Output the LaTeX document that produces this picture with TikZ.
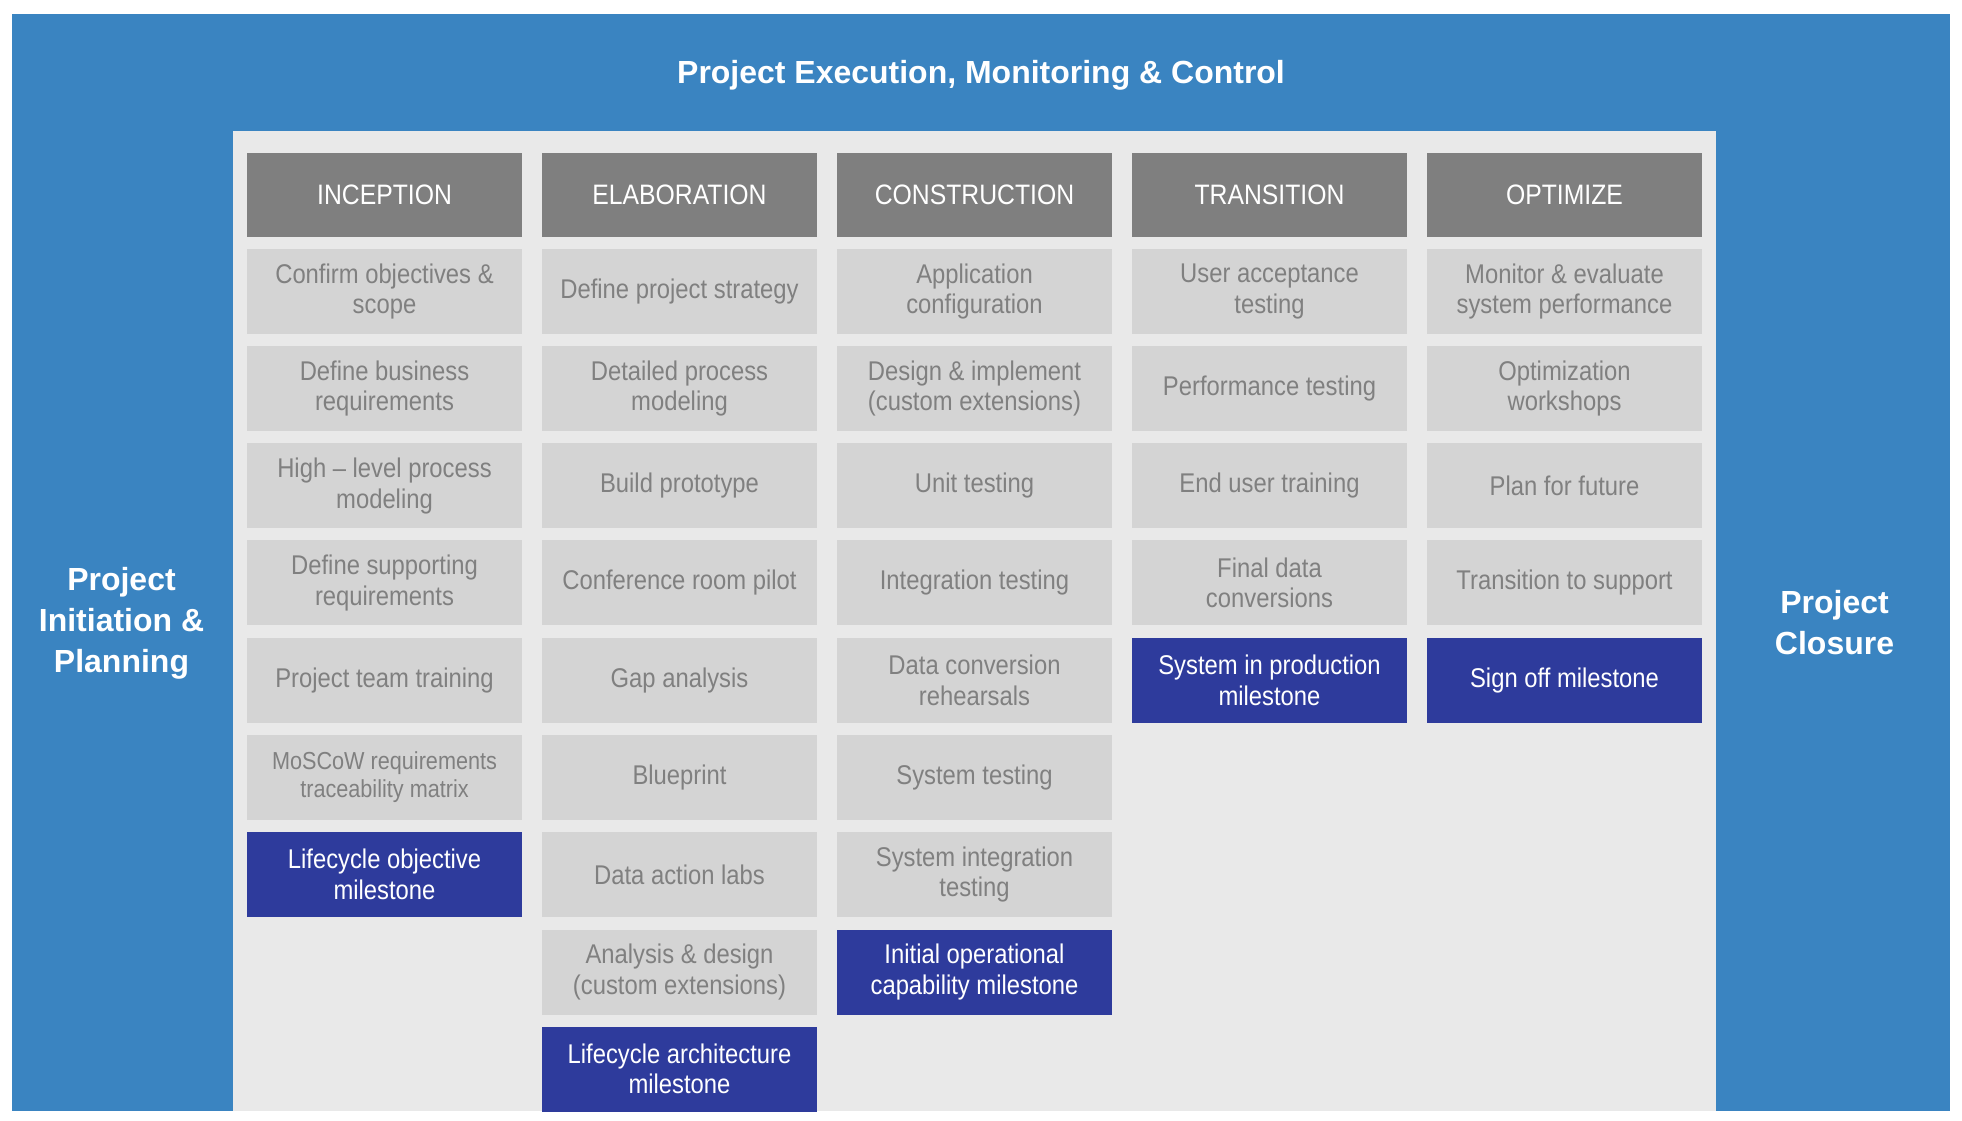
\documentclass[tikz,border=0pt]{standalone}
\usepackage{fontspec}
\setmainfont{Liberation Sans}[FakeStretch=0.88]
\newfontfamily\titlefont{Liberation Sans}

\definecolor{bandblue}{RGB}{58,132,193}
\definecolor{panelgray}{RGB}{233,233,233}
\definecolor{headgray}{RGB}{127,127,127}
\definecolor{cellgray}{RGB}{212,212,212}
\definecolor{textgray}{RGB}{128,128,128}
\definecolor{milestoneblue}{RGB}{46,59,156}

\begin{document}
\begin{tikzpicture}
\tikzstyle{every node} = [align=center, inner sep=0pt, font=\fontsize{15.4}{17.4}\selectfont]
\tikzstyle{phase} = [fill=headgray, text=white, minimum width=5.5cm, minimum height=1.68cm, font=\fontsize{16}{18}\selectfont]
\tikzstyle{task} = [fill=cellgray, text=textgray, minimum width=5.5cm, minimum height=1.7cm]
\tikzstyle{milestone} = [fill=milestoneblue, text=white, minimum width=5.5cm, minimum height=1.7cm]
\tikzstyle{banner} = [text=white, font=\titlefont\bfseries\fontsize{18.2}{23.4}\selectfont]

\useasboundingbox (0, 0) rectangle (39.24, 22.4);
\fill[white] (0, 0) rectangle (39.24, 22.4);

% fondo
\fill[bandblue] (0.24, 0.18) rectangle (39.0, 22.12);
\fill[panelgray] (4.66, 0.18) rectangle (34.32, 19.78);

% titoli esterni
\node[banner] (exec) at (19.62, 20.9) {Project Execution, Monitoring \& Control};
\node[banner] (init) at (2.43, 9.94) {Project\\Initiation \&\\Planning};
\node[banner] (closure) at (36.69, 9.94) {Project\\Closure};

% intestazioni
\node[phase] (inc) at (7.69, 18.5) {INCEPTION};
\node[phase] (ela) at (13.59, 18.5) {ELABORATION};
\node[phase] (con) at (19.49, 18.5) {CONSTRUCTION};
\node[phase] (tra) at (25.39, 18.5) {TRANSITION};
\node[phase] (opt) at (31.29, 18.5) {OPTIMIZE};

% colonna inception
\node[task] (inc1) at (7.69, 16.57) {Confirm objectives \&\\scope};
\node[task] (inc2) at (7.69, 14.63) {Define business\\requirements};
\node[task] (inc3) at (7.69, 12.68) {High -- level process\\modeling};
\node[task] (inc4) at (7.69, 10.74) {Define supporting\\requirements};
\node[task] (inc5) at (7.69, 8.79) {Project team training};
\node[task, font=\fontsize{14}{15.8}\selectfont] (inc6) at (7.69, 6.85) {MoSCoW requirements\\traceability matrix};
\node[milestone] (inc7) at (7.69, 4.91) {Lifecycle objective\\milestone};

% colonna elaboration
\node[task] (ela1) at (13.59, 16.57) {Define project strategy};
\node[task] (ela2) at (13.59, 14.63) {Detailed process\\modeling};
\node[task] (ela3) at (13.59, 12.68) {Build prototype};
\node[task] (ela4) at (13.59, 10.74) {Conference room pilot};
\node[task] (ela5) at (13.59, 8.79) {Gap analysis};
\node[task] (ela6) at (13.59, 6.85) {Blueprint};
\node[task] (ela7) at (13.59, 4.91) {Data action labs};
\node[task] (ela8) at (13.59, 2.96) {Analysis \& design\\(custom extensions)};
\node[milestone] (ela9) at (13.59, 1.02) {Lifecycle architecture\\milestone};

% colonna construction
\node[task] (con1) at (19.49, 16.57) {Application\\configuration};
\node[task] (con2) at (19.49, 14.63) {Design \& implement\\(custom extensions)};
\node[task] (con3) at (19.49, 12.68) {Unit testing};
\node[task] (con4) at (19.49, 10.74) {Integration testing};
\node[task] (con5) at (19.49, 8.79) {Data conversion\\rehearsals};
\node[task] (con6) at (19.49, 6.85) {System testing};
\node[task] (con7) at (19.49, 4.91) {System integration\\testing};
\node[milestone] (con8) at (19.49, 2.96) {Initial operational\\capability milestone};

% colonna transition
\node[task] (tra1) at (25.39, 16.57) {User acceptance\\testing};
\node[task] (tra2) at (25.39, 14.63) {Performance testing};
\node[task] (tra3) at (25.39, 12.68) {End user training};
\node[task] (tra4) at (25.39, 10.74) {Final data\\conversions};
\node[milestone] (tra5) at (25.39, 8.79) {System in production\\milestone};

% colonna optimize
\node[task] (opt1) at (31.29, 16.57) {Monitor \& evaluate\\system performance};
\node[task] (opt2) at (31.29, 14.63) {Optimization\\workshops};
\node[task] (opt3) at (31.29, 12.68) {Plan for future};
\node[task] (opt4) at (31.29, 10.74) {Transition to support};
\node[milestone] (opt5) at (31.29, 8.79) {Sign off milestone};

\end{tikzpicture}
\end{document}
